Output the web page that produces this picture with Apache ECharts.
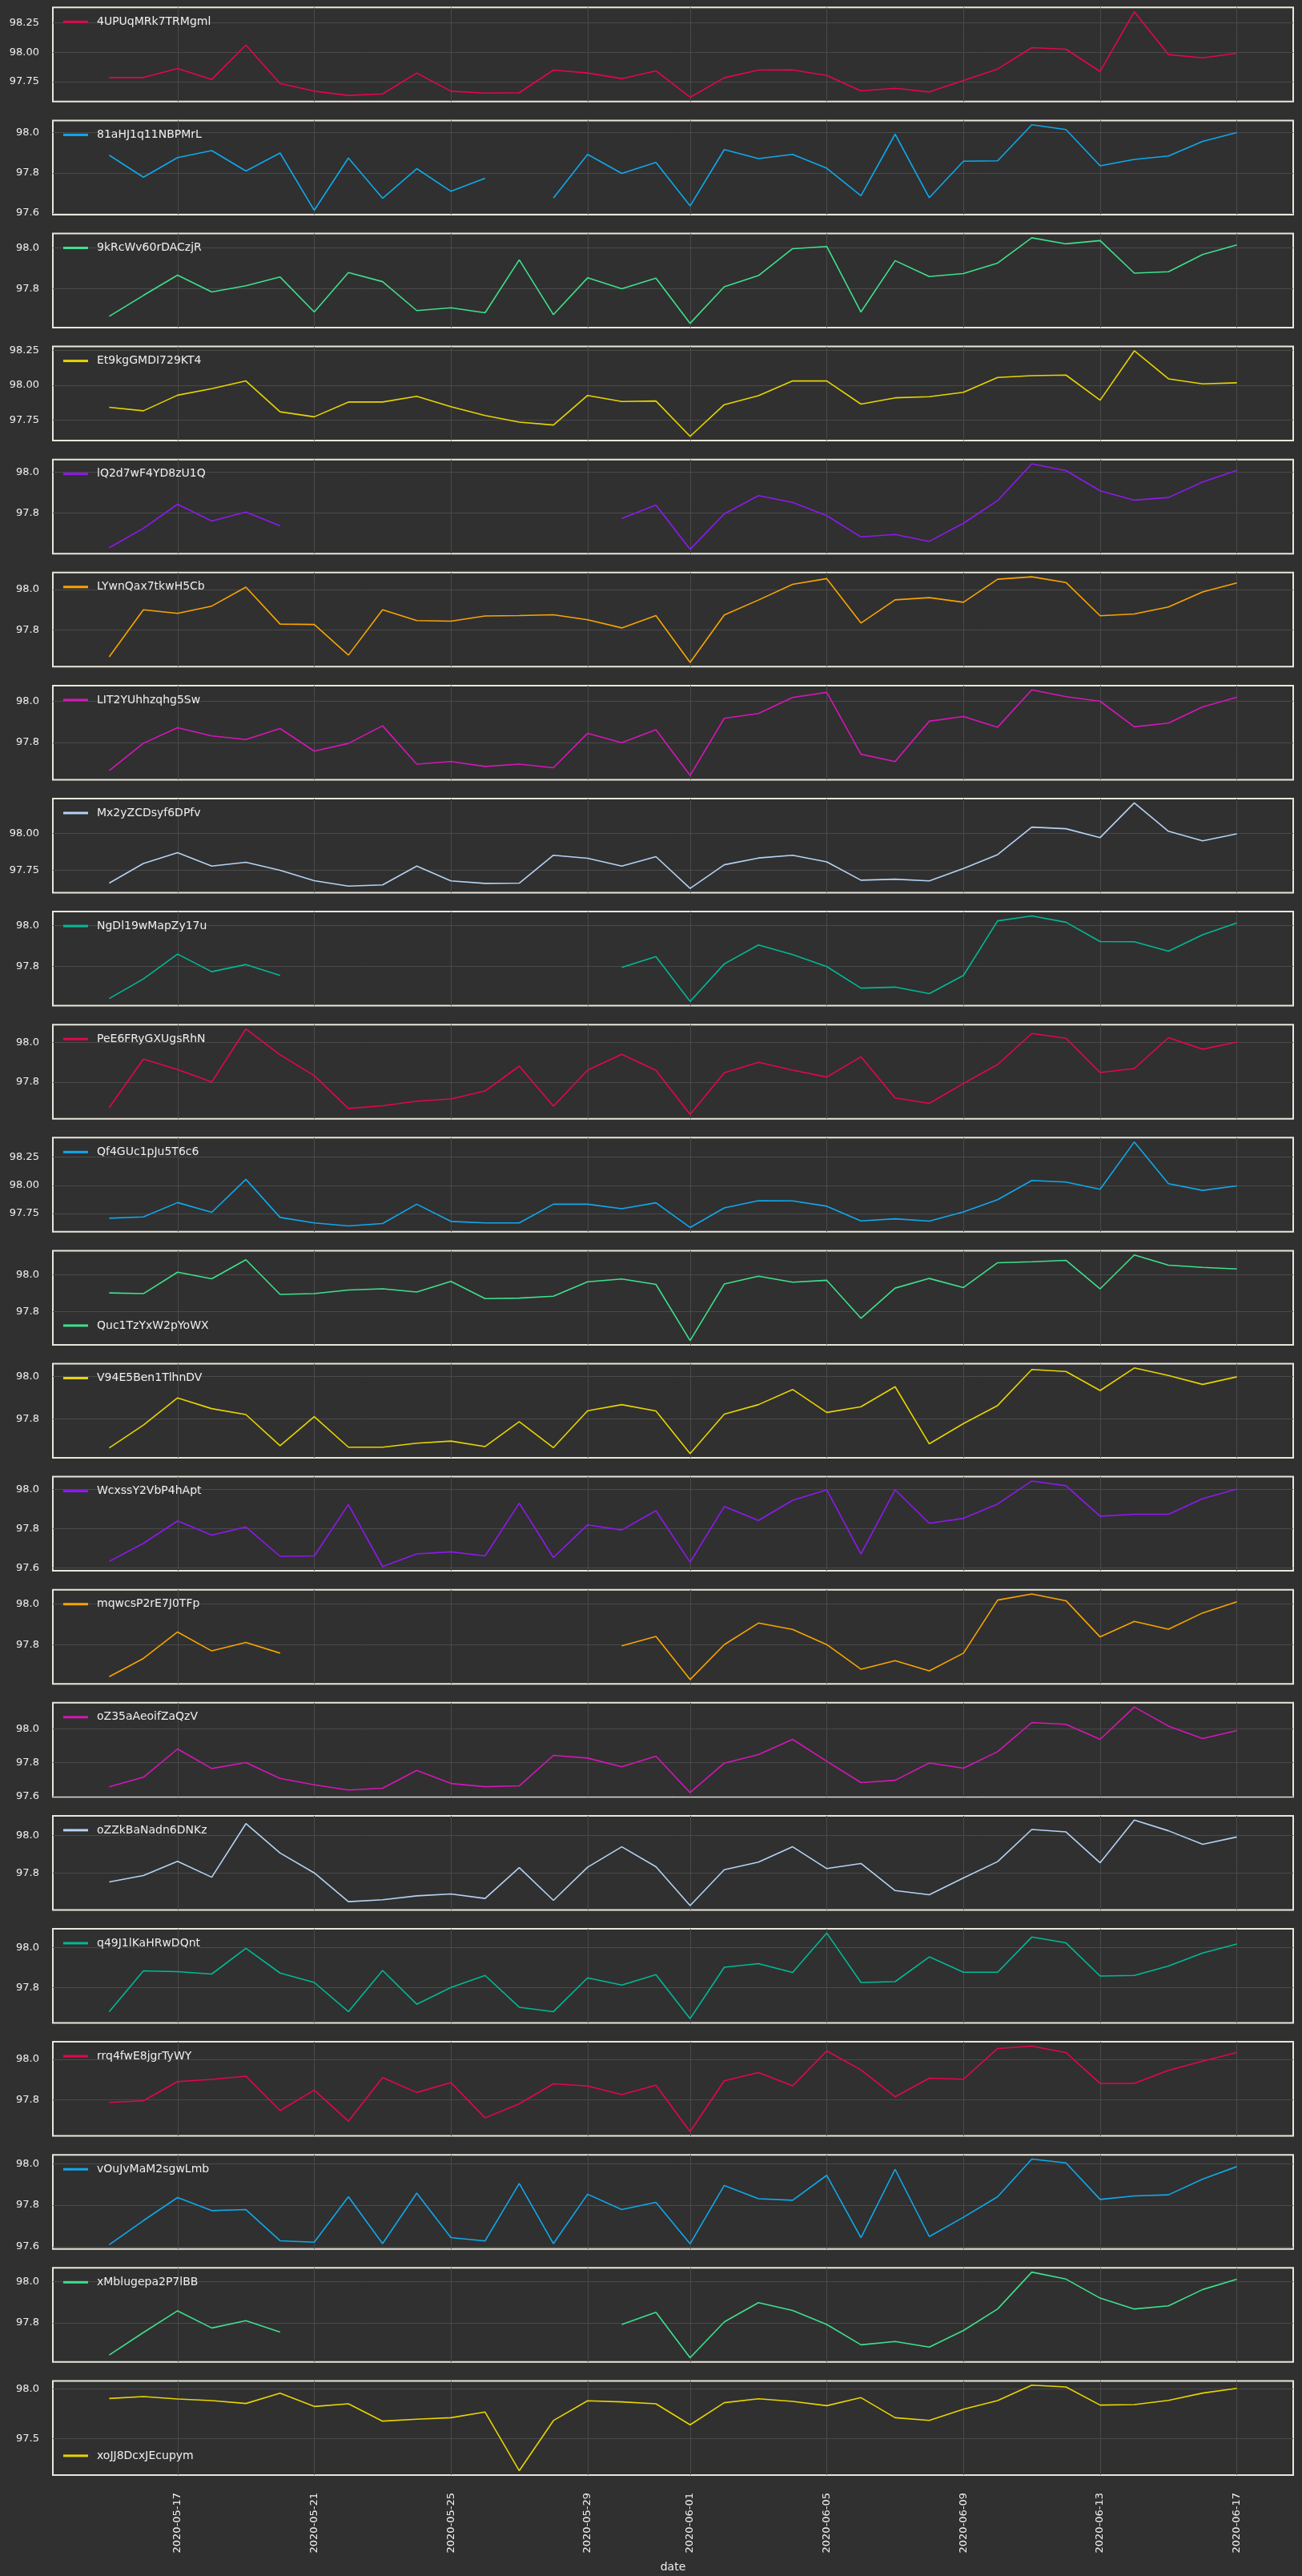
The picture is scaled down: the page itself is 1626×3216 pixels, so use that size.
<!DOCTYPE html>
<html>
<head>
<meta charset="utf-8">
<script src="https://cdn.jsdelivr.net/npm/echarts@6/dist/echarts.min.js"></script>
<style>
  html, body { margin: 0; padding: 0; background: #303030; }
  #chart { width: 1626px; height: 3216px; }
</style>
</head>
<body>
<div id="chart"></div>
<script>
// x categories (one point per day)
const dates = [
  '2020-05-15','2020-05-16','2020-05-17','2020-05-18','2020-05-19','2020-05-20','2020-05-21','2020-05-22','2020-05-23','2020-05-24',
  '2020-05-25','2020-05-26','2020-05-27','2020-05-28','2020-05-29','2020-05-30','2020-05-31','2020-06-01','2020-06-02','2020-06-03',
  '2020-06-04','2020-06-05','2020-06-06','2020-06-07','2020-06-08','2020-06-09','2020-06-10','2020-06-11','2020-06-12','2020-06-13',
  '2020-06-14','2020-06-15','2020-06-16','2020-06-17'
];
const xTickDates = ['2020-05-17','2020-05-21','2020-05-25','2020-05-29','2020-06-01','2020-06-05','2020-06-09','2020-06-13','2020-06-17'];

const names = [
  '4UPUqMRk7TRMgml','81aHJ1q11NBPMrL','9kRcWv60rDACzjR','Et9kgGMDI729KT4','lQ2d7wF4YD8zU1Q','LYwnQax7tkwH5Cb',
  'LIT2YUhhzqhg5Sw','Mx2yZCDsyf6DPfv','NgDl19wMapZy17u','PeE6FRyGXUgsRhN','Qf4GUc1pJu5T6c6','Quc1TzYxW2pYoWX',
  'V94E5Ben1TlhnDV','WcxssY2VbP4hApt','mqwcsP2rE7J0TFp','oZ35aAeoifZaQzV','oZZkBaNadn6DNKz','q49J1lKaHRwDQnt',
  'rrq4fwE8jgrTyWY','vOuJvMaM2sgwLmb','xMblugepa2P7lBB','xoJJ8DcxJEcupym'
];
const palette = ['#e5064b', '#0fa8ec', '#3ee08c', '#e8d400', '#8e19f0', '#f9a400', '#d516b8', '#b4d2f4', '#00b995'];
// y tick spacing of each panel
const yStep = [0.25, 0.2, 0.2, 0.25, 0.2, 0.2, 0.2, 0.25, 0.2, 0.2, 0.25, 0.2, 0.2, 0.2, 0.2, 0.2, 0.2, 0.2, 0.2, 0.2, 0.2, 0.5];
const legendAtBottom = ['Quc1TzYxW2pYoWX', 'xoJJ8DcxJEcupym'];

const s01 = [97.784,97.784,97.861,97.768,98.061,97.734,97.668,97.632,97.645,97.823,
             97.668,97.652,97.655,97.848,97.823,97.775,97.841,97.616,97.782,97.848,
             97.850,97.802,97.670,97.693,97.661,97.759,97.857,98.039,98.025,97.836,
             98.345,97.980,97.952,97.991];
const s02 = [97.888,97.778,97.876,97.911,97.809,97.899,97.613,97.874,97.673,97.821,
             97.708,97.773,null,97.674,97.892,97.797,97.852,97.635,97.916,97.871,
             97.892,97.823,97.686,97.993,97.676,97.858,97.860,98.040,98.016,97.835,
             97.867,97.884,97.957,98.001];
const s03 = [97.663,97.766,97.866,97.783,97.814,97.857,97.684,97.879,97.834,97.691,
             97.705,97.680,97.942,97.671,97.853,97.799,97.851,97.628,97.809,97.864,
             97.997,98.008,97.684,97.938,97.859,97.874,97.926,98.051,98.021,98.037,
             97.876,97.883,97.968,98.016];
const s04 = [97.841,97.816,97.928,97.975,98.030,97.809,97.773,97.879,97.879,97.920,
             97.845,97.782,97.735,97.714,97.926,97.883,97.886,97.633,97.860,97.924,
             98.030,98.030,97.864,97.909,97.917,97.949,98.055,98.068,98.072,97.892,
             98.246,98.045,98.009,98.017];
const s05 = [97.631,97.726,97.844,97.762,97.806,97.738,null,null,null,null,
             null,null,null,null,null,97.774,97.840,97.623,97.797,97.886,
             97.853,97.788,97.684,97.696,97.662,97.751,97.862,98.042,98.009,97.910,
             97.864,97.877,97.953,98.010];
const s06 = [97.666,97.899,97.881,97.917,98.011,97.828,97.826,97.674,97.899,97.845,
             97.842,97.868,97.870,97.874,97.849,97.809,97.870,97.638,97.873,97.947,
             98.025,98.053,97.833,97.948,97.959,97.936,98.050,98.062,98.034,97.869,
             97.878,97.913,97.987,98.032];
const s07 = [97.665,97.797,97.872,97.832,97.815,97.868,97.759,97.796,97.881,97.696,
             97.709,97.685,97.696,97.679,97.845,97.799,97.862,97.642,97.917,97.940,
             98.017,98.042,97.744,97.709,97.903,97.926,97.874,98.054,98.021,97.999,
             97.876,97.894,97.972,98.018];
const s08 = [97.661,97.795,97.868,97.777,97.803,97.748,97.678,97.641,97.649,97.777,
             97.676,97.659,97.661,97.851,97.830,97.777,97.841,97.625,97.786,97.832,
             97.851,97.806,97.681,97.688,97.676,97.761,97.855,98.042,98.031,97.971,
             98.207,98.014,97.949,97.996];
const s09 = [97.644,97.740,97.861,97.775,97.810,97.757,null,null,null,null,
             null,null,null,null,null,97.796,97.849,97.630,97.813,97.905,
             97.858,97.800,97.695,97.700,97.668,97.757,98.023,98.047,98.016,97.922,
             97.921,97.875,97.955,98.013];
const s10 = [97.672,97.915,97.863,97.800,98.067,97.937,97.832,97.667,97.681,97.704,
             97.715,97.755,97.880,97.679,97.860,97.939,97.859,97.637,97.847,97.899,
             97.860,97.825,97.927,97.720,97.693,97.793,97.888,98.044,98.020,97.848,
             97.868,98.023,97.965,98.001];
const s11 = [97.709,97.721,97.847,97.761,98.052,97.716,97.667,97.641,97.662,97.833,
             97.681,97.667,97.667,97.833,97.833,97.793,97.845,97.627,97.800,97.864,
             97.862,97.815,97.685,97.704,97.683,97.765,97.873,98.042,98.028,97.965,
             98.383,98.014,97.955,97.995];
const s12 = [97.901,97.897,98.013,97.977,98.080,97.893,97.897,97.917,97.923,97.906,
             97.963,97.870,97.873,97.883,97.961,97.976,97.947,97.644,97.949,97.991,
             97.959,97.969,97.764,97.927,97.979,97.930,98.064,98.069,98.077,97.923,
             98.106,98.051,98.039,98.030];
const s13 = [97.662,97.770,97.899,97.848,97.820,97.672,97.810,97.665,97.665,97.684,
             97.694,97.668,97.786,97.663,97.838,97.867,97.837,97.635,97.822,97.867,
             97.939,97.830,97.857,97.952,97.681,97.777,97.863,98.034,98.024,97.934,
             98.041,98.005,97.963,97.999];
const s14 = [97.633,97.725,97.839,97.767,97.808,97.659,97.661,97.922,97.607,97.671,
             97.682,97.661,97.929,97.653,97.819,97.793,97.891,97.629,97.912,97.841,
             97.944,97.997,97.671,97.997,97.827,97.852,97.925,98.042,98.018,97.863,
             97.873,97.873,97.952,98.001];
const s15 = [97.643,97.733,97.863,97.770,97.812,97.759,null,null,null,null,
             null,null,null,null,null,97.795,97.841,97.629,97.801,97.907,
             97.876,97.801,97.680,97.722,97.672,97.759,98.020,98.050,98.017,97.839,
             97.915,97.877,97.957,98.012];
const s16 = [97.656,97.713,97.881,97.765,97.800,97.706,97.668,97.637,97.648,97.754,
             97.676,97.657,97.662,97.843,97.827,97.775,97.838,97.622,97.797,97.848,
             97.938,97.808,97.681,97.695,97.798,97.767,97.865,98.038,98.027,97.938,
             98.130,98.017,97.943,97.990];
const s17 = [97.752,97.786,97.862,97.777,98.062,97.906,97.800,97.647,97.657,97.678,
             97.688,97.664,97.828,97.654,97.830,97.939,97.833,97.626,97.817,97.857,
             97.939,97.823,97.850,97.706,97.684,97.773,97.860,98.031,98.018,97.854,
             98.081,98.024,97.952,97.991];
const s18 = [97.679,97.883,97.879,97.867,97.996,97.872,97.825,97.679,97.885,97.716,
             97.800,97.860,97.701,97.679,97.848,97.812,97.864,97.644,97.901,97.919,
             97.875,98.072,97.825,97.829,97.953,97.876,97.876,98.052,98.023,97.857,
             97.860,97.907,97.972,98.017];
const s19 = [97.787,97.795,97.890,97.901,97.917,97.746,97.848,97.694,97.910,97.836,
             97.885,97.710,97.780,97.879,97.868,97.826,97.872,97.642,97.894,97.935,
             97.869,98.042,97.948,97.815,97.907,97.902,98.054,98.066,98.034,97.881,
             97.881,97.946,97.991,98.034];
const s20 = [97.610,97.726,97.837,97.774,97.779,97.629,97.622,97.841,97.615,97.858,
             97.644,97.628,97.905,97.615,97.853,97.779,97.814,97.614,97.895,97.831,
             97.824,97.944,97.644,97.973,97.649,97.742,97.841,98.022,98.004,97.828,
             97.845,97.850,97.926,97.986];
const s21 = [97.642,97.752,97.858,97.774,97.810,97.754,null,null,null,null,
             null,null,null,null,null,97.791,97.851,97.629,97.804,97.898,
             97.860,97.791,97.692,97.708,97.681,97.762,97.867,98.047,98.013,97.920,
             97.867,97.882,97.962,98.012];
const s22 = [97.906,97.925,97.901,97.884,97.855,97.960,97.825,97.852,97.677,97.696,
             97.712,97.769,97.177,97.683,97.882,97.871,97.852,97.640,97.863,97.903,
             97.876,97.833,97.914,97.712,97.685,97.798,97.884,98.040,98.022,97.839,
             97.844,97.887,97.960,98.008];

const seriesValues = [s01, s02, s03, s04, s05, s06, s07, s08, s09, s10, s11,
                      s12, s13, s14, s15, s16, s17, s18, s19, s20, s21, s22];

const BG = '#303030';
const FRAME = '#e9e7dc';
const GRID_LINE = '#4a4a4a';
const TEXT = '#eeeeee';
const FONT = 'DejaVu Sans';
const TOP0 = 9.3, PITCH = 141.1, H = 117.5, LEFT = 66, RIGHT = 11;

const chart = echarts.init(document.getElementById('chart'), null, { renderer: 'canvas' });

const n = dates.length;
const xTicks = xTickDates.map(d => dates.indexOf(d));
const grid = [], xAxis = [], yAxis = [], series = [], legend = [];

names.forEach((name, i) => {
  const vals = seriesValues[i];
  const nums = vals.filter(v => v !== null);
  const lo = Math.min(...nums), hi = Math.max(...nums);
  const pad = (hi - lo) * 0.05;
  const yMin = lo - pad, yMax = hi + pad;
  const step = yStep[i];
  const dec = step === 0.25 ? 2 : 1;
  const yTicks = [];
  for (let k = Math.ceil(yMin / step - 1e-9); k * step <= yMax + 1e-9; k++) {
    yTicks.push(+(k * step).toFixed(2));
  }
  const top = TOP0 + i * PITCH;
  const last = i === names.length - 1;
  const color = palette[i % palette.length];

  grid.push({
    left: LEFT, right: RIGHT, top: top, height: H,
    show: true, backgroundColor: BG, borderColor: FRAME, borderWidth: 2
  });
  xAxis.push({
    gridIndex: i, type: 'value',
    min: -(n - 1) * 0.05, max: (n - 1) * 1.05,
    axisLine: { show: false },
    axisTick: { show: false, customValues: xTicks },
    axisLabel: {
      show: last, customValues: xTicks, rotate: 90, margin: 22,
      color: TEXT, fontFamily: FONT, fontSize: 13,
      formatter: v => dates[Math.round(v)]
    },
    splitLine: { show: true, lineStyle: { color: GRID_LINE, width: 1 } },
    name: last ? 'date' : '', nameLocation: 'middle', nameGap: 108,
    nameTextStyle: { color: TEXT, fontFamily: FONT, fontSize: 14 }
  });
  yAxis.push({
    gridIndex: i, type: 'value', min: yMin, max: yMax,
    axisLine: { show: false },
    axisTick: { show: false, customValues: yTicks },
    axisLabel: {
      customValues: yTicks, margin: 17,
      color: TEXT, fontFamily: FONT, fontSize: 13,
      formatter: v => v.toFixed(dec)
    },
    splitLine: { show: true, lineStyle: { color: GRID_LINE, width: 1 } }
  });
  series.push({
    type: 'line', name: name, xAxisIndex: i, yAxisIndex: i,
    data: vals.map((v, k) => [k, v]),
    showSymbol: false, symbol: 'none', connectNulls: false,
    lineStyle: { color: color, width: 1.6 },
    itemStyle: { color: color }
  });
  const atBottom = legendAtBottom.includes(name);
  legend.push({
    data: [name], selectedMode: false,
    left: 79, top: atBottom ? top + H - 31 : top + 11,
    icon: 'rect', itemWidth: 31, itemHeight: 3, padding: 0,
    textStyle: { color: TEXT, fontFamily: FONT, fontSize: 14, padding: [0, 0, 0, 6] }
  });
});

chart.setOption({
  backgroundColor: BG,
  animation: false,
  grid: grid,
  xAxis: xAxis,
  yAxis: yAxis,
  legend: legend,
  series: series
});
</script>
</body>
</html>
